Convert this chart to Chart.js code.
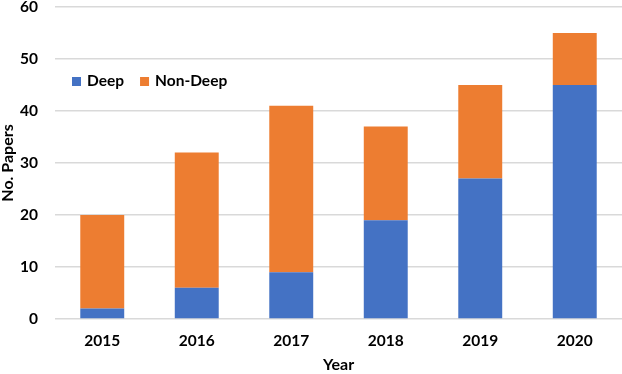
<!DOCTYPE html>
<html><head><meta charset="utf-8">
<script src="https://cdn.jsdelivr.net/npm/chart.js@4/dist/chart.umd.min.js"></script>
<style>html,body{margin:0;padding:0;background:#fff}#c{display:block}</style>
</head><body>
<canvas id="c" width="622" height="374"></canvas>
<script>
const years = ['2015','2016','2017','2018','2019','2020'];
const deep = [2, 6, 9, 19, 27, 45];
const nonDeep = [18, 26, 32, 18, 18, 10];
const yTicks = [0, 10, 20, 30, 40, 50, 60];

const FONT = 'Lato';
const legendPlugin = {
  id: 'inlegend',
  afterDraw(chart) {
    const ctx = chart.ctx;
    const x0 = chart.scales.x.left + 17, y = chart.scales.y.getPixelForValue(50) + 22;
    ctx.save();
    ctx.font = 'bold 15.5px ' + FONT;
    ctx.textBaseline = 'middle';
    let x = x0;
    chart.data.datasets.forEach(ds => {
      ctx.fillStyle = ds.backgroundColor;
      ctx.fillRect(x, y - 4, 9, 9);
      x += 15;
      ctx.fillStyle = '#000';
      ctx.fillText(ds.label, x, y);
      x += ctx.measureText(ds.label).width + 16;
    });
    ctx.restore();
  }
};

new Chart(document.getElementById('c'), {
  type: 'bar',
  data: {
    labels: years,
    datasets: [
      {label: 'Deep', data: deep, backgroundColor: '#4472C4', borderWidth: 0},
      {label: 'Non-Deep', data: nonDeep, backgroundColor: '#ED7D31', borderWidth: 0}
    ]
  },
  options: {
    responsive: false,
    animation: false,
    layout: {padding: {top: 7, right: 0, left: 0, bottom: 0}},
    plugins: {legend: {display: false}, tooltip: {enabled: false}},
    datasets: {bar: {barPercentage: 0.465, categoryPercentage: 1}},
    scales: {
      x: {
        stacked: true,
        afterFit(axis) { axis.height = 55; axis.paddingLeft = 0; axis.paddingRight = 0; },
        grid: {display: false},
        border: {display: false},
        ticks: {color: '#000', font: {family: FONT, size: 15.5, weight: 'bold'}, padding: 5},
        title: {display: true, text: 'Year', color: '#000', font: {family: FONT, size: 16, weight: 'bold', lineHeight: 1.2}, padding: {top: 0, bottom: 0}}
      },
      y: {
        stacked: true,
        min: 0, max: 60,
        afterFit(axis) { axis.width = 55; axis.paddingTop = 0; axis.paddingBottom = 0; },
        afterBuildTicks(axis) { axis.ticks = yTicks.map(v => ({value: v})); },
        grid: {color: '#d9d9d9', lineWidth: 1.5, drawTicks: false},
        border: {display: false},
        ticks: {color: '#000', font: {family: FONT, size: 15.5, weight: 'bold'}, padding: 17},
        title: {display: true, text: 'No. Papers', color: '#000', font: {family: FONT, size: 16, weight: 'bold', lineHeight: 1}, padding: {top: 0, bottom: 0}}
      }
    }
  },
  plugins: [legendPlugin]
});
</script>
</body></html>
